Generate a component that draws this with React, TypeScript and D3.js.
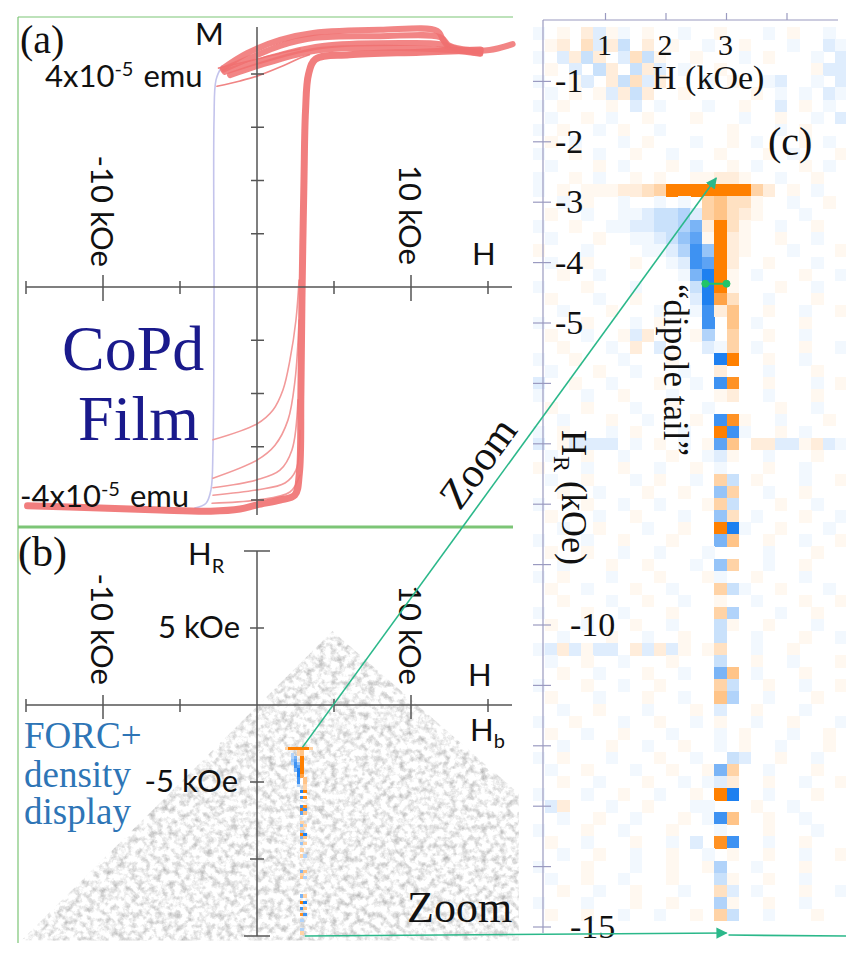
import React from 'react'
import * as d3 from 'd3'

// ---- panel (a): hysteresis loop and FORCs, [H in kOe, M in 1e-5 emu] ----
const MAJOR_UP = [
  [-14.9, -4.11], [-10.2, -4.15], [-6.3, -4.19], [-3.0, -4.21], [-1.1, -4.17], [0, -4.09],
  [1.5, -4.0], [2.45, -3.91], [2.75, -3.5], [2.85, -2.0], [2.92, -0.2], [3.05, 2.0],
  [3.15, 3.3], [3.35, 4.0], [3.8, 4.28], [6.0, 4.36], [10.6, 4.41], [14.5, 4.45],
]
const DESCENDING = [
  [-2.27, 4.15], [-2.66, 3.89], [-2.79, 3.14], [-2.79, -0.24], [-2.86, -3.06],
  [-2.99, -3.81], [-3.31, -4.06], [-4.03, -4.15],
]
const FORC_UPPER = [
  [[-2.2, 4.11], [-0.65, 4.39], [1.5, 4.64], [3.64, 4.77], [8.0, 4.83], [11.7, 4.81], [12.08, 4.64], [12.4, 4.51]],
  [[-2.2, 4.08], [-0.45, 4.3], [1.5, 4.53], [3.77, 4.68], [8.0, 4.71], [11.9, 4.69], [12.5, 4.53], [13.8, 4.45], [15.1, 4.45], [16.6, 4.56]],
  [[-2.1, 4.04], [0, 4.23], [2.8, 4.45], [4.7, 4.54], [9.3, 4.58], [11.9, 4.56], [13.2, 4.45], [14.5, 4.39]],
  [[-1.75, 3.98], [0, 4.15], [2.8, 4.38], [4.1, 4.45], [9.3, 4.49], [12.5, 4.45], [14.5, 4.38]],
]
const FORC_MID = [
  [[-2.6, 3.77], [-1.1, 3.87], [0, 3.96], [1.5, 4.13], [2.8, 4.3], [3.4, 4.36]],
  [[-2.5, 4.11], [0, 4.28], [1.8, 4.41], [2.8, 4.47]],
]
const FORC_LOWER = [
  [[-2.86, -2.87], [0, -2.57], [1.04, -2.31], [1.69, -1.93], [2.14, -1.37], [2.53, -0.62], [2.73, 0.13]],
  [[-2.86, -3.59], [0, -3.25], [1.17, -2.97], [2.01, -2.5], [2.47, -1.75], [2.73, -0.62]],
  [[-2.86, -3.77], [0, -3.62], [1.49, -3.44], [2.27, -3.06], [2.66, -2.12]],
  [[-2.86, -3.91], [0, -3.81], [1.82, -3.68], [2.53, -3.44], [2.79, -2.69]],
  [[-2.92, -4.06], [0, -4.0], [2.14, -3.85], [2.79, -3.53]],
]

const H_TICKS = [-15, -10, -5, 0, 5, 10, 15]
const M_TICKS = [-4, -3, -2, -1, 1, 2, 3, 4]
const HR_TICKS_B = [10, 5, -5, -10, -15]

// ---- panel (b): FORC diagram footprint, [H, H_R] in kOe ----
const GRAY_REGION = [[-15.3, -15.3], [4.9, 4.8], [16.6, -5.4], [17, -5.8], [17, -15.3]]

// ---- panel (c): FORC+ density grid ----
// one string per H_R row (from -0.2 down in 0.2 kOe steps), one char per H column (from -0.1 up in 0.2 kOe steps)
// '1'..'9' orange (positive) level, 'a'..'i' blue (negative) level, '.' zero
const FORC_H0 = -0.1
const FORC_HR0 = -0.2
const FORC_STEP = 0.2
const FORC_ROWS = [
  'a.1.2b1a.1..a..1...a.1..a.',
  '.12.3b2c.2.1..a..1...a..ba',
  'a.b2c2.b3c1..1...a.1...a.b',
  '.1.b.c2.c2b.a..1.......1bb',
  'a..1b.2c3b2...a.1..ab..a.b',
  '.a.1.1b2c2..1.....1.a.a.ba',
  'a.1...1.b.a...a..1..b.1.a.',
  '.a..1.a..1...1...a..1..a.b',
  'a.1..a.1..a.....1...a.1...',
  '.1.a...a.1...a..1.a...1.a.',
  'a..1.a..1..a...1...1.a...1',
  '.a...1.a...1.a..1.a...1.a.',
  'a..1.a..1.1..11221..a..1..',
  'a.1.1112234999999942.1.a..',
  '..a.1..a..a.a.45331..a..1.',
  '.1..a..aabccdb45321...a...',
  'a..1..aabbccdf2931..a..1..',
  '.a...1..aabceg1921..1..a..',
  '1...a....aabdhe921...a...1',
  '.a..1...1..abhg92..1...a..',
  '..1..a......afi91.a...1..a',
  'a...1...a....ci91...1..a..',
  '.1...a..1....bi73..a...1..',
  '..a...1...a..ah25..1..a..1',
  'a...1...a.1...h.5.a...1...',
  '.1..a..1b2...1d.4..1..a...',
  '..1...a.2.b...ba4.a...1..a',
  'a..1...a...1...i9..1..a...',
  '.a...1..a...a..2...a...1..',
  'b..1..a...1..a.h8..1...a.1',
  'a...a..1...a...12..a...1..',
  '.1..1...a..1..a.....1..a..',
  '..a...1..a...1.h81..a...1.',
  'a.1...a.1...a..9ha..1.a...',
  'b.1bbbb.a.1.a.1g5.22bb12ba',
  '.a..1..a...1..ab1..a...1..',
  '1...a..1..a..1.a...1..a...',
  '.a..1...a.1..a.4c.1...a..1',
  '..1..a...1..1..e4..a..1...',
  'a...1..a..a...14c...1..a..',
  '.1...a..1...a..e3.a...1..a',
  '..a..1...a..1..9ia..1...a.',
  'a...a..1...1...f5..1..a..1',
  '.1..1..a..a...a....a...1..',
  '..a...1..1...a.e4..a..1...',
  'a.1...a...1...1a..1...a...',
  '.1..a...1..a...4ca..1...a.',
  '..1...a..1..a..1..a...1..1',
  'a...1..a...1...4d...a..1..',
  '.1..a...1..a...c1..1...a..',
  '..a...1..a..1..c..a...1..a',
  'ab2b1bb.2b2b1.13..a..1....',
  '.a..1..a...1...c..1..a...1',
  '..1..a...1..a..f5.a...1...',
  'a...1..a..1....4c..1..a..1',
  '.1...a...1..a..5d..a...1..',
  '..a..1...a...1.b..1...a...',
  'a..1...a..1..a.1..a..1...a',
  '.1..a..1...a...a.1...a..1.',
  '..a...1..a..1..a.1..a...1.',
  'a.1...a...1..a..cb..1..a..',
  '.a..1...a..1..1f4..a...1..',
  '..1..a...1..a.ab2..1..a..1',
  'a...a..1..a..1.9i..a...1..',
  '.b2...a..1...aa...1..a....',
  '..a..1..a...1.ah5..1..a...',
  'a...1..a...1...a...1...a..',
  '.1..a...1..a.b.8h..a..1...',
  '..a..1..a..1..a.1..1..a..1',
  'a...1...a..1..1d..a...1...',
  '.a..1..a...1...c1..1..a...',
  '..1..a..1...a..3b.a...1..a',
  'a...a...1..1...d1..1..a...',
  '.1..1..a..a..1.4c..a...1..',
]
const HC_TICKS = [1, 2, 3, 4]
const HC_LABELS = [1, 2, 3]
const HRC_TICKS = [-1, -2, -3, -4, -5, -6, -7, -8, -9, -10, -11, -12, -13, -14, -15]
const HRC_LABELS = [-1, -2, -3, -4, -5, -10, -15]

const SANS = "Lato, 'Open Sans', sans-serif"
const SERIF = "'Liberation Serif', 'DejaVu Serif', serif"
const ORANGE = '#ff8000'
const BLUE = '#1e80f0'
const TEAL = '#2bb88a'
const GREEN = '#7cc576'
const RED = '#f07070'
const AXIS = '#555'

const level = (ch: string) => {
  if (ch >= '1' && ch <= '9') return +ch / 9
  const k = ch.charCodeAt(0) - 96
  if (k >= 1 && k <= 9) return -k / 9
  return 0
}
// faint levels are compressed so the background noise stays pale
const cellColor = (v: number) => {
  const t = Math.pow(Math.min(1, Math.abs(v)), 1.3)
  return v > 0 ? d3.interpolateRgb('#ffffff', ORANGE)(t) : d3.interpolateRgb('#ffffff', BLUE)(t)
}

const cells = FORC_ROWS.flatMap((row, r) =>
  row.split('').map((ch, i) => ({ h: FORC_H0 + i * FORC_STEP, hr: FORC_HR0 - r * FORC_STEP, v: level(ch) }))
).filter(c => c.v !== 0)

export default function App() {
  const xA = d3.scaleLinear().domain([-15, 15]).range([26, 488])
  const yA = d3.scaleLinear().domain([-4, 4]).range([500, 74])
  const xB = xA
  const yB = d3.scaleLinear().domain([-15, 10]).range([936, 551])
  const xC = d3.scaleLinear().domain([0, 4]).range([545, 787])
  const yC = d3.scaleLinear().domain([0, -15]).range([21, 927])

  const lineA = d3.line<number[]>().x(d => xA(d[0])).y(d => yA(d[1])).curve(d3.curveCatmullRom.alpha(0.5))
  const regionB = d3.line<number[]>().x(d => xB(d[0])).y(d => yB(d[1]))

  const ax0 = yA(0), ay0 = xA(0), bx0 = yB(0)
  const half = FORC_STEP / 2

  // zoom connectors between (b) and (c)
  const z1 = { x1: xB(2.95), y1: yB(-2.75), x2: xC(2.83), y2: yC(-2.6) }
  const z2 = { x1: xB(3.1), y1: yB(-15.0), x2: xC(3.0), y2: yC(-15.1) }
  const zAngle = (Math.atan2(z1.y2 - z1.y1, z1.x2 - z1.x1) * 180) / Math.PI

  return (
    <svg width={846} height={957} style={{ position: 'absolute', left: 0, top: 0 }}>
      <defs>
        <marker id="arr" viewBox="0 0 10 10" refX="9" refY="5" markerWidth="7" markerHeight="7" orient="auto">
          <path d="M0,0 L10,5 L0,10 z" fill={TEAL} />
        </marker>
        <filter id="grain" x="0" y="0" width="100%" height="100%">
          <feTurbulence type="fractalNoise" baseFrequency="0.16" numOctaves="4" seed="7" result="n" />
          <feColorMatrix in="n" type="matrix" values="0 0 0 0 0.45  0 0 0 0 0.45  0 0 0 0 0.45  1.9 0 0 0 -0.78" />
        </filter>
        <clipPath id="grayClip">
          <path d={regionB(GRAY_REGION) + 'Z'} />
        </clipPath>
        <clipPath id="cClip">
          <rect x={531} y={24} width={315} height={906} />
        </clipPath>
      </defs>
      <rect width={846} height={957} fill="#fff" />

      {/* ---------- panel (c) heatmap ---------- */}
      <g clipPath="url(#cClip)" shapeRendering="crispEdges">
        {cells.map((c, i) => (
          <rect key={i} x={xC(c.h - half)} y={yC(c.hr + half)}
            width={xC(c.h + half) - xC(c.h - half) + 0.4} height={yC(c.hr - half) - yC(c.hr + half) + 0.4}
            fill={cellColor(c.v)} />
        ))}
      </g>
      <g stroke="#9a9ac0" strokeWidth={1.2}>
        <line x1={543} x2={838} y1={yC(0) - 1} y2={yC(0) - 1} />
        <line x1={543} x2={543} y1={yC(0) - 1} y2={yC(-15.1)} />
        {HC_TICKS.map(t => <line key={t} x1={xC(t)} x2={xC(t)} y1={13} y2={20} />)}
        {HRC_TICKS.map(t => <line key={t} x1={533} x2={551} y1={yC(t)} y2={yC(t)} />)}
      </g>
      <g fontFamily={SERIF} fill="#111">
        {HC_LABELS.map(t => <text key={t} x={xC(t) - 1} y={55} fontSize={30} textAnchor="middle">{t}</text>)}
        <text x={652} y={89} fontSize={34}>H (kOe)</text>
        {HRC_LABELS.map(t => (
          <text key={t} x={t <= -10 ? 570 : 555} y={yC(t) + 11} fontSize={34}>{t}</text>
        ))}
        <text x={768} y={155} fontSize={40}>(c)</text>
        <text transform="translate(562,430) rotate(90)" fontSize={36}>
          H<tspan fontSize={24} dy={8}>R</tspan><tspan dy={-8}> (kOe)</tspan>
        </text>
        <text transform="translate(664,284) rotate(90)" fontSize={35}>{'\u201Cdipole tail\u201D'}</text>
      </g>
      <g stroke="#22c46a" fill="#22c46a">
        <line x1={xC(2.65)} x2={xC(3.0)} y1={yC(-4.35)} y2={yC(-4.35)} strokeWidth={2} />
        <circle cx={xC(2.65)} cy={yC(-4.35)} r={3.5} />
        <circle cx={xC(3.0)} cy={yC(-4.35)} r={3.5} />
      </g>

      {/* ---------- panel (b) ---------- */}
      <g clipPath="url(#grayClip)">
        <rect x={10} y={600} width={520} height={345} fill="#fff" filter="url(#grain)" />
      </g>
      <g shapeRendering="crispEdges">
        {cells.filter(c => Math.abs(c.v) >= 0.4).map((c, i) => (
          <rect key={i} x={xB(c.h - half)} y={yB(c.hr + half)}
            width={xB(c.h + half) - xB(c.h - half) + 0.3} height={yB(c.hr - half) - yB(c.hr + half) + 0.3}
            fill={cellColor(c.v)} />
        ))}
      </g>
      <g stroke={AXIS} strokeWidth={1.5}>
        <line x1={xB(-15)} x2={512} y1={bx0} y2={bx0} />
        <line x1={ay0} x2={ay0} y1={yB(10)} y2={yB(-15)} />
        {H_TICKS.filter(t => t !== 0).map(t => (
          <line key={t} x1={xB(t)} x2={xB(t)} y1={bx0 - (Math.abs(t) === 10 ? 10 : 6)} y2={bx0 + (Math.abs(t) === 10 ? 14 : 7)} />
        ))}
        {HR_TICKS_B.map(t => {
          const w = t === 10 || t === -15 ? 13 : 7
          return <line key={t} x1={ay0 - w} x2={ay0 + w} y1={yB(t)} y2={yB(t)} />
        })}
      </g>
      <g fontFamily={SANS} fill="#111" fontSize={31}>
        <text transform={`translate(${xB(-10) - 12},${bx0 - 20}) rotate(90)`} textAnchor="end">-10 kOe</text>
        <text transform={`translate(${xB(10) - 12},${bx0 - 20}) rotate(90)`} textAnchor="end">10 kOe</text>
        <text x={ay0 - 17} y={yB(5) + 10} textAnchor="end">5 kOe</text>
        <text x={ay0 - 19} y={yB(-5) + 10} textAnchor="end">-5 kOe</text>
        <text x={188} y={565}>H<tspan fontSize={20} dy={8}>R</tspan></text>
        <text x={468} y={686}>H</text>
        <text x={470} y={741}>H<tspan fontSize={20} dy={7}>b</tspan></text>
      </g>
      <g fontFamily={SERIF} fill="#2e75b6" fontSize={37}>
        <text x={24} y={748}>FORC+</text>
        <text x={24} y={787}>density</text>
        <text x={24} y={824}>display</text>
      </g>
      <text x={18} y={566} fontFamily={SERIF} fontSize={42} fill="#111">(b)</text>
      <text x={407} y={922} fontFamily={SERIF} fontSize={44} fill="#111">Zoom</text>

      {/* ---------- panel (a) ---------- */}
      <g fill="none" strokeLinecap="round" strokeLinejoin="round">
        <path d={lineA(DESCENDING) || ''} stroke="#c4c4ec" strokeWidth={1.6} />
        {FORC_LOWER.map((c, i) => <path key={i} d={lineA(c) || ''} stroke="#f29a9a" strokeWidth={1.6} />)}
        {FORC_MID.map((c, i) => <path key={i} d={lineA(c) || ''} stroke="#f08484" strokeWidth={1.6} />)}
        {FORC_UPPER.map((c, i) => <path key={i} d={lineA(c) || ''} stroke={RED} strokeWidth={6} strokeOpacity={0.85} />)}
        <path d={lineA(MAJOR_UP) || ''} stroke={RED} strokeWidth={7} strokeOpacity={0.9} />
      </g>
      <g stroke={AXIS} strokeWidth={1.5}>
        <line x1={xA(-15)} x2={512} y1={ax0} y2={ax0} />
        <line x1={ay0} x2={ay0} y1={27} y2={515} />
        {H_TICKS.filter(t => t !== 0).map(t => (
          <line key={t} x1={xA(t)} x2={xA(t)} y1={ax0 - (Math.abs(t) === 10 ? 12 : 6)} y2={ax0 + (Math.abs(t) === 10 ? 14 : 7)} />
        ))}
        {M_TICKS.map(t => <line key={t} x1={ay0 - 6} x2={ay0 + 7} y1={yA(t)} y2={yA(t)} />)}
      </g>
      <g fontFamily={SANS} fill="#111" fontSize={31}>
        <text transform={`translate(${xA(-10) - 12},${ax0 - 20}) rotate(90)`} textAnchor="end">-10 kOe</text>
        <text transform={`translate(${xA(10) - 12},${ax0 - 22}) rotate(90)`} textAnchor="end">10 kOe</text>
        <text x={195} y={45}>M</text>
        <text x={472} y={265}>H</text>
        <text x={45} y={87}>4x10<tspan fontSize={20} dy={-11}>-5</tspan><tspan dx={10} dy={11}>emu</tspan></text>
        <text x={20} y={507}>-4x10<tspan fontSize={20} dy={-11}>-5</tspan><tspan dx={10} dy={11}>emu</tspan></text>
      </g>
      <text x={20} y={53} fontFamily={SERIF} fontSize={40} fill="#111">(a)</text>
      <g fontFamily={SERIF} fill="#1a1a8c" fontSize={64}>
        <text x={62} y={370}>CoPd</text>
        <text x={78} y={440}>Film</text>
      </g>

      {/* panel frames */}
      <g stroke={GREEN}>
        <line x1={18} x2={513} y1={17} y2={17} strokeWidth={1.2} />
        <line x1={18} x2={18} y1={17} y2={943} strokeWidth={1.2} />
        <line x1={18} x2={513} y1={527} y2={527} strokeWidth={3} />
      </g>

      {/* zoom connectors */}
      <g stroke={TEAL} strokeWidth={1.6}>
        <line {...z1} markerEnd="url(#arr)" />
        <line {...z2} markerEnd="url(#arr)" />
        <line x1={z2.x2 + 2} x2={846} y1={z2.y2 + 2} y2={z2.y2 + 3} />
      </g>
      <text transform={`translate(478,463) rotate(${zAngle})`} textAnchor="middle" dy="0.33em"
        fontFamily={SERIF} fontSize={42} fill="#111">Zoom</text>
    </svg>
  )
}
